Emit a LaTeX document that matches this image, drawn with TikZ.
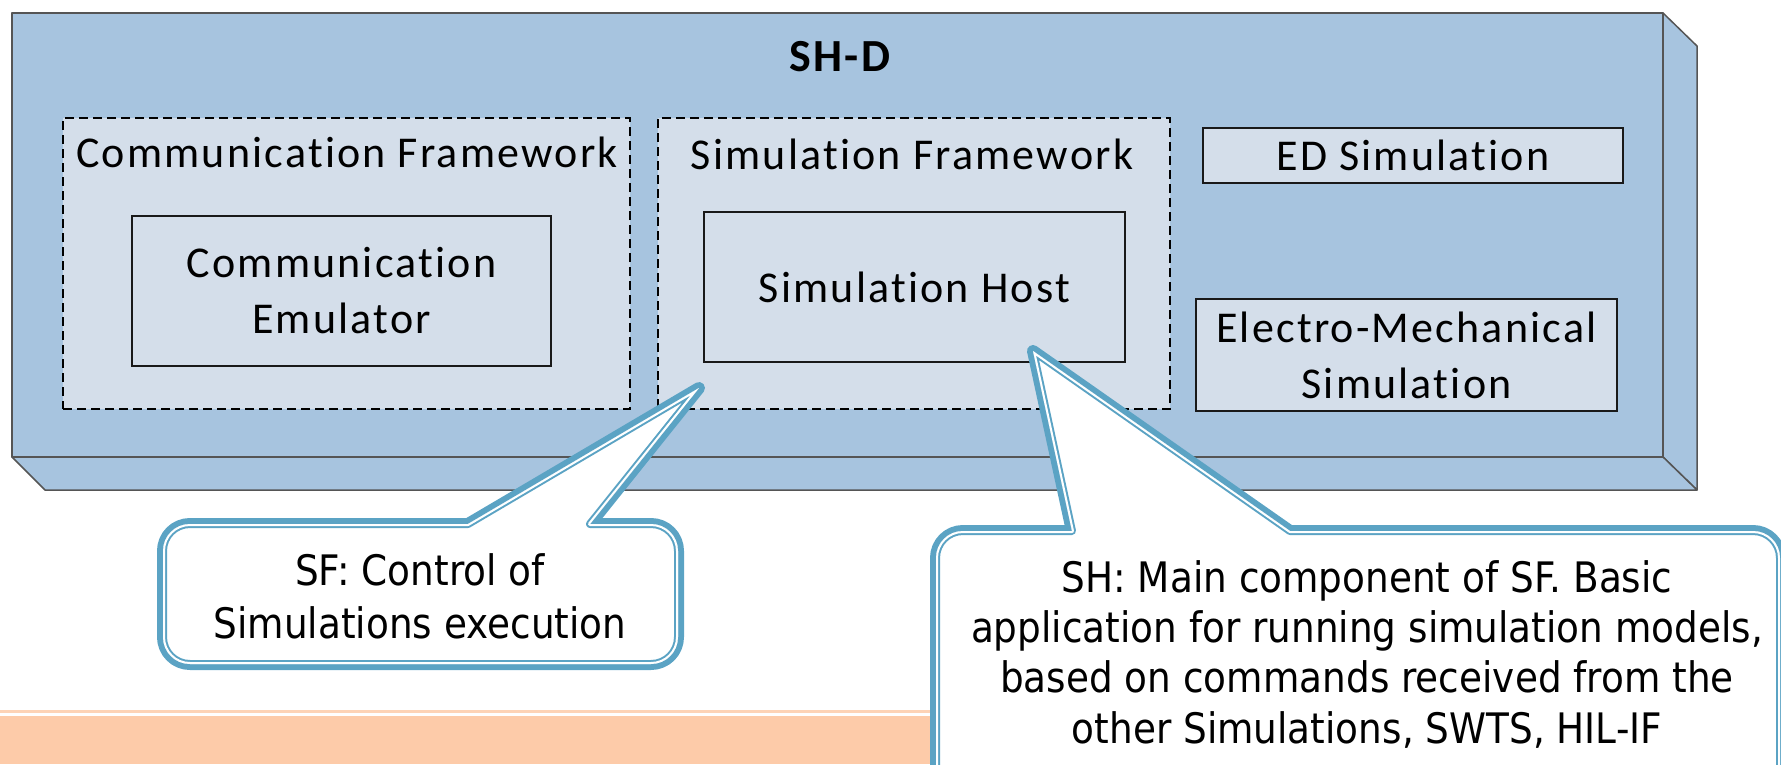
\documentclass[tikz,border=0pt]{standalone}
\usepackage{fontspec}
\setmainfont{Carlito}
\newfontfamily\boxfont[LetterSpace=5, Ligatures=NoCommon]{Carlito}
\newfontfamily\calloutfont[FakeStretch=0.89]{DejaVu Sans}

\definecolor{boxblue}{HTML}{A7C4DF}
\definecolor{paleblue}{HTML}{D4DEEA}
\definecolor{edgegray}{HTML}{555555}
\definecolor{callblue}{HTML}{5BA3C4}
\definecolor{bandorange}{HTML}{FDCBA9}

\tikzset{
  face/.style={fill=boxblue, draw=edgegray, line width=1.5, line join=round},
  frame/.style={draw=black, fill=paleblue, dash pattern=on 9 off 5, line width=1.3, inner sep=0},
  unit/.style={draw=black!90, fill=paleblue, line width=1.5, inner sep=0, align=center,
    font=\boxfont\fontsize{44}{56}\selectfont},
  title/.style={font=\boxfont\fontsize{44}{52}\selectfont, anchor=base, inner sep=0},
  note/.style={align=center, inner sep=0, anchor=base},
}

% outline of the two speech bubbles (inner edge of the thick rim)
\def\sfbubble{(163,551) .. controls (163,536) and (175,524) .. (190,524)
  -- (468,524) -- (699,388) -- (590,524)
  -- (651,524) .. controls (666,524) and (678,536) .. (678,551)
  -- (678,637) .. controls (678,652) and (666,664) .. (651,664)
  -- (190,664) .. controls (175,664) and (163,652) .. (163,637) -- cycle}
\def\shbubble{(936,558) .. controls (936,543) and (948,531) .. (963,531)
  -- (1072,531) -- (1033,351) -- (1290,531)
  -- (1753,531) .. controls (1768,531) and (1780,543) .. (1780,558)
  -- (1780,830) -- (936,830) -- cycle}

\begin{document}
\begin{tikzpicture}[x=1pt, y=-1pt]
\useasboundingbox (0,0) rectangle (1781,764);
\clip (0,0) rectangle (1781,764);

% slide footer band
\fill[bandorange] (0,716) rectangle (1781,764);
\draw[bandorange!85, line width=2.5] (0,711.5) -- (1781,711.5);

% SH-D block drawn as a raised slab
\draw[face] (1663,13) -- (1697,46) -- (1697,490) -- (1663,457) -- cycle;
\draw[face] (12,457) -- (1663,457) -- (1697,490) -- (45,490) -- cycle;
\node[face, minimum width=1651, minimum height=444, inner sep=0] (shd) at (837.5,235) {};
\node[font=\boxfont\bfseries\fontsize{46}{52}\selectfont, anchor=base, inner sep=0] (shdtitle) at (840,71) {SH-D};

% frameworks
\node[frame, minimum width=567, minimum height=291] (cf) at (346.5,263.5) {};
\node[title] (cftitle) at (347,167) {Communication Framework};
\node[frame, minimum width=512, minimum height=291] (sf) at (914,263.5) {};
\node[title] (sftitle) at (912,169) {Simulation Framework};

% components
\node[unit, minimum width=419, minimum height=150] (ce) at (341.5,291) {Communication\\Emulator};
\node[unit, minimum width=421, minimum height=150] (sh) at (914.5,287) {Simulation Host};
\node[unit, minimum width=420, minimum height=55] (ed) at (1413,155.5) {ED Simulation};
\node[unit, minimum width=421, minimum height=112] (em) at (1406.5,355) {Electro-Mechanical\\Simulation};

% speech bubbles: thick outer rim, white gap, thin inner rim
\foreach \bubble in {\sfbubble,\shbubble}{
  \draw[callblue, line width=12, line join=round] \bubble;
  \fill[white] \bubble;
  \begin{scope}
    \clip \bubble;
    \draw[callblue, line width=8, line join=round] \bubble;
    \draw[white, line width=4, line join=round] \bubble;
  \end{scope}
}
\coordinate (sftip) at (699,388);
\coordinate (shtip) at (1033,351);

% bubble texts, placed by the baseline of their last line
\node[note, font=\calloutfont\fontsize{42}{53}\selectfont] (sfnote) at (420,638)
  {SF: Control of\\Simulations execution};
\node[note, font=\calloutfont\fontsize{42}{50.3}\selectfont] (shnote) at (1367,743)
  {SH: Main component of SF. Basic\\application for running simulation models,\\based on commands received from the\\other Simulations, SWTS, HIL-IF};
\end{tikzpicture}
\end{document}
